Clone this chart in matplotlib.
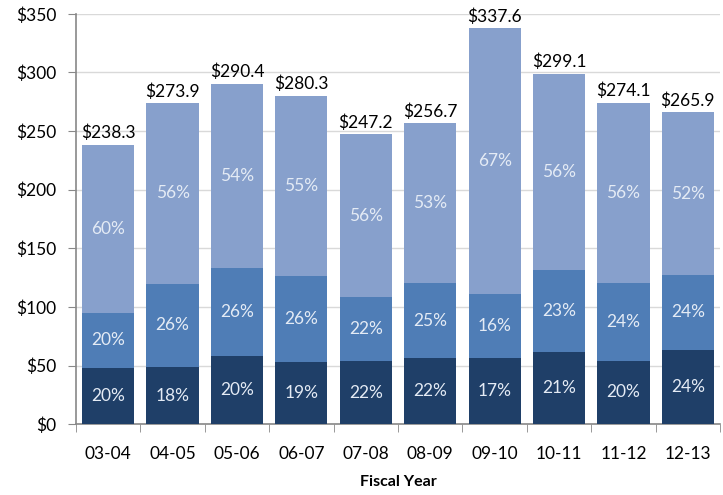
import matplotlib
matplotlib.use("Agg")
import matplotlib.pyplot as plt

# fiscal years and segment values ($ millions)
years = ["03-04", "04-05", "05-06", "06-07", "07-08", "08-09", "09-10", "10-11", "11-12", "12-13"]
totals = [238.3, 273.9, 290.4, 280.3, 247.2, 256.7, 337.6, 299.1, 274.1, 265.9]
bottom_vals = [47.7, 48.9, 58.1, 53.0, 54.0, 56.3, 56.8, 62.0, 54.2, 63.5]
middle_vals = [47.5, 70.8, 75.0, 73.2, 54.5, 64.0, 54.0, 69.6, 66.0, 64.0]
top_vals = [143.1, 154.2, 157.3, 154.1, 138.7, 136.4, 226.8, 167.5, 153.9, 138.4]
bottom_pct = ["20%", "18%", "20%", "19%", "22%", "22%", "17%", "21%", "20%", "24%"]
middle_pct = ["20%", "26%", "26%", "26%", "22%", "25%", "16%", "23%", "24%", "24%"]
top_pct = ["60%", "56%", "54%", "55%", "56%", "53%", "67%", "56%", "56%", "52%"]

plt.rcParams['font.family'] = ['Lato', 'DejaVu Sans']

fig = plt.figure(figsize=(7.23, 4.95), dpi=100)
ax = fig.add_axes([0.105, 0.143, 0.891, 0.829])

x = list(range(len(years)))
w = 0.81
c_dark = '#1f3f68'
c_mid = '#4f7db6'
c_light = '#87a0cc'
txt_col = '#e4ebf5'

mid_base = bottom_vals
top_base = [b + m for b, m in zip(bottom_vals, middle_vals)]

ax.bar(x, bottom_vals, width=w, color=c_dark, zorder=3)
ax.bar(x, middle_vals, width=w, bottom=mid_base, color=c_mid, zorder=3)
ax.bar(x, top_vals, width=w, bottom=top_base, color=c_light, zorder=3)

for i in x:
    ax.text(i, bottom_vals[i] / 2, bottom_pct[i], ha='center', va='center',
            color=txt_col, fontsize=12.5, zorder=4)
    ax.text(i, mid_base[i] + middle_vals[i] / 2, middle_pct[i], ha='center', va='center',
            color=txt_col, fontsize=12.5, zorder=4)
    ax.text(i, top_base[i] + top_vals[i] / 2, top_pct[i], ha='center', va='center',
            color=txt_col, fontsize=12.5, zorder=4)
    ax.text(i, totals[i] + 3, "$" + format(totals[i], ".1f"), ha='center', va='bottom',
            color='black', fontsize=12.5, zorder=4)

ax.set_xlim(-0.5, len(years) - 0.5)
ax.set_ylim(0, 350)
ax.set_yticks(range(0, 351, 50))
ax.set_yticklabels(["$" + str(v) for v in range(0, 351, 50)], fontsize=12.5)
ax.yaxis.grid(True, color='#d9d9d9', linewidth=1, zorder=0)

ax.set_xticks(x)
ax.set_xticklabels(years, fontsize=12.5)
ax.tick_params(axis='x', which='major', length=0, pad=16)
ax.set_xticks([i + 0.5 for i in range(-1, len(years))], minor=True)
ax.tick_params(axis='x', which='minor', length=6, color='#888888', direction='out')
ax.tick_params(axis='y', length=6, color='#888888', pad=8)

for s in ['top', 'right']:
    ax.spines[s].set_visible(False)
ax.spines['left'].set_color('#888888')
ax.spines['bottom'].set_color('#888888')
ax.spines['left'].set_linewidth(1.2)
ax.spines['bottom'].set_linewidth(1.2)

ax.set_xlabel("Fiscal Year", fontsize=11.5, fontweight='bold', labelpad=9)

fig.savefig("out.png", dpi=100)
